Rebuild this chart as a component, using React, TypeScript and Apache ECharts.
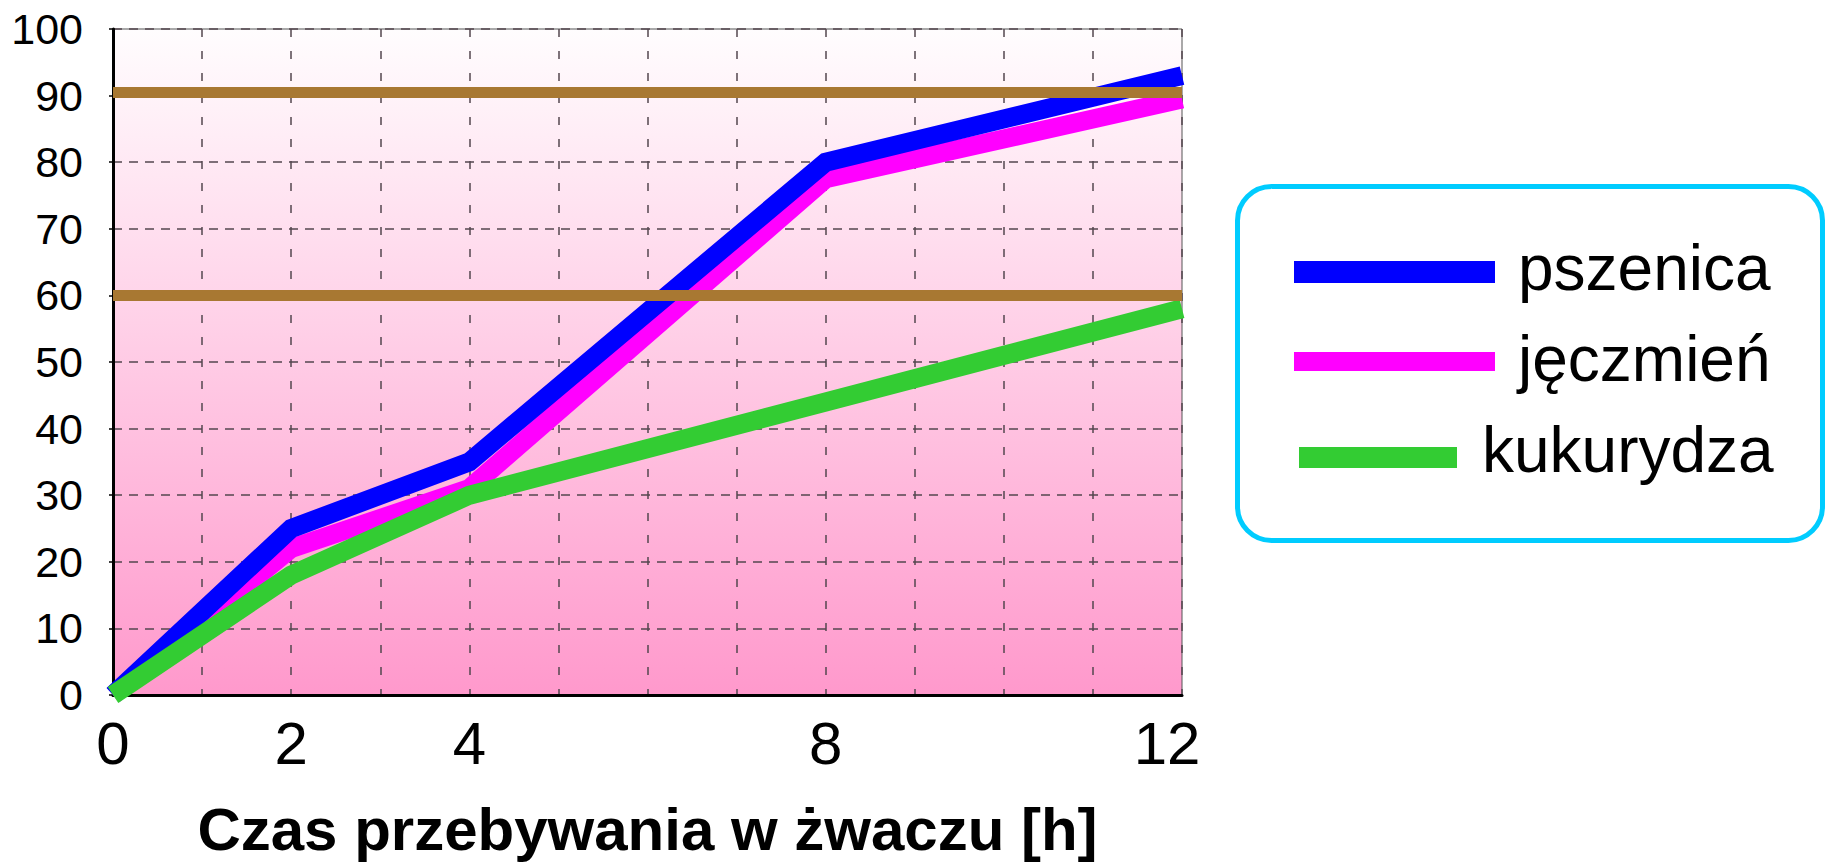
import React, { useEffect, useRef } from "react";
import * as echarts from "echarts";

// Hours spent in the rumen, and the share degraded for each grain (%)
const hours = [0, 2, 4, 8, 12];
const labelledHours = [0, 2, 4, 8, 12];
const pszenica = [0, 25, 35, 80, 93];
const jeczmien = [0, 22, 31, 77.5, 89.5];
const kukurydza = [0, 18, 30, 44, 58];

const seriesNames = ["pszenica", "jęczmień", "kukurydza"];
const seriesColors = ["#0000FF", "#FF00FF", "#33CC33"];
const referenceLevels = [60, 90.5];

const xTitle = "Czas przebywania w żwaczu [h]";
const FONT = "'Liberation Sans', Arial, Helvetica, sans-serif";

function toPoints(values: number[]) {
  return hours.map((h, i) => [h, values[i]]);
}

export default function App() {
  const ref = useRef<HTMLDivElement>(null);

  useEffect(() => {
    if (!ref.current) return;
    const chart = echarts.init(ref.current, undefined, { renderer: "svg" });

    const seriesValues = [pszenica, jeczmien, kukurydza];
    const seriesZ = [3, 2, 4];

    const series: any[] = seriesValues.map((vals, i) => ({
      name: seriesNames[i],
      type: "line",
      data: toPoints(vals),
      showSymbol: false,
      symbol: "none",
      clip: false,
      z: seriesZ[i],
      silent: true,
      lineStyle: { width: 19, color: seriesColors[i], join: "miter", cap: "butt" },
      itemStyle: { color: seriesColors[i] },
      emphasis: { disabled: true },
    }));

    series[0].markLine = {
      silent: true,
      symbol: "none",
      z: 6,
      label: { show: false },
      lineStyle: { color: "#A87832", width: 11, type: "solid" },
      emphasis: { disabled: true },
      data: referenceLevels.map((v) => ({ yAxis: v })),
    };

    // Legend box drawn as a framed panel on the right
    const legendRows = [
      { swatchX: 1294, swatchY: 261, swatchW: 201, swatchH: 22, textX: 1518, textY: 268 },
      { swatchX: 1294, swatchY: 352, swatchW: 201, swatchH: 19, textX: 1518, textY: 359 },
      { swatchX: 1299, swatchY: 447, swatchW: 158, swatchH: 21, textX: 1482, textY: 450 },
    ];

    const legendElements: any[] = [
      {
        type: "rect",
        shape: { x: 1237.5, y: 186.5, width: 585, height: 354, r: 34 },
        style: { fill: "#FFFFFF", stroke: "#00CCFF", lineWidth: 5 },
        silent: true,
      },
    ];
    legendRows.forEach((row, i) => {
      legendElements.push({
        type: "rect",
        shape: { x: row.swatchX, y: row.swatchY, width: row.swatchW, height: row.swatchH },
        style: { fill: seriesColors[i] },
        silent: true,
      });
      legendElements.push({
        type: "text",
        x: row.textX,
        y: row.textY,
        silent: true,
        style: {
          text: seriesNames[i],
          fontSize: 64,
          fontFamily: FONT,
          fill: "#000000",
          verticalAlign: "middle",
          align: "left",
        },
      });
    });

    chart.setOption({
      animation: false,
      backgroundColor: "#FFFFFF",
      grid: {
        left: 113,
        right: 645,
        top: 29,
        bottom: 157,
        show: true,
        borderColor: "#555555",
        borderWidth: 1,
        backgroundColor: new echarts.graphic.LinearGradient(0, 0, 0, 1, [
          { offset: 0, color: "#FFFDFE" },
          { offset: 1, color: "#FF99CC" },
        ]),
      },
      xAxis: {
        type: "value",
        min: 0,
        max: 12,
        interval: 1,
        name: xTitle,
        nameLocation: "middle",
        nameGap: 104,
        nameTextStyle: {
          fontSize: 60,
          fontWeight: "bold",
          color: "#000000",
          fontFamily: FONT,
        },
        axisLine: { show: true, onZero: false, lineStyle: { color: "#000000", width: 3 } },
        axisTick: { show: false },
        axisLabel: {
          show: true,
          margin: 18,
          fontSize: 60,
          color: "#000000",
          fontFamily: FONT,
          formatter: (v: number) => {
            if (!labelledHours.includes(v)) return "";
            if (v === labelledHours[labelledHours.length - 1]) return "{last|" + v + "}";
            return String(v);
          },
          rich: {
            last: {
              fontSize: 60,
              color: "#000000",
              fontFamily: FONT,
              padding: [0, 30, 0, 0],
            },
          },
        },
        splitLine: {
          show: true,
          lineStyle: { color: "#54474F", width: 1.5, type: [8, 14] },
        },
      },
      yAxis: {
        type: "value",
        min: 0,
        max: 100,
        interval: 10,
        axisLine: { show: true, onZero: false, lineStyle: { color: "#000000", width: 3 } },
        axisTick: { show: true, length: 4, lineStyle: { color: "#000000", width: 1.5 } },
        axisLabel: {
          margin: 30,
          fontSize: 43,
          color: "#000000",
          fontFamily: FONT,
        },
        splitLine: {
          show: true,
          lineStyle: { color: "#54474F", width: 1.5, type: [9, 7] },
        },
      },
      graphic: { elements: legendElements },
      series,
    });

    return () => {
      chart.dispose();
    };
  }, []);

  return (
    <div
      ref={ref}
      style={{ position: "fixed", left: 0, top: 0, width: 1827, height: 864, background: "#FFFFFF" }}
    />
  );
}
